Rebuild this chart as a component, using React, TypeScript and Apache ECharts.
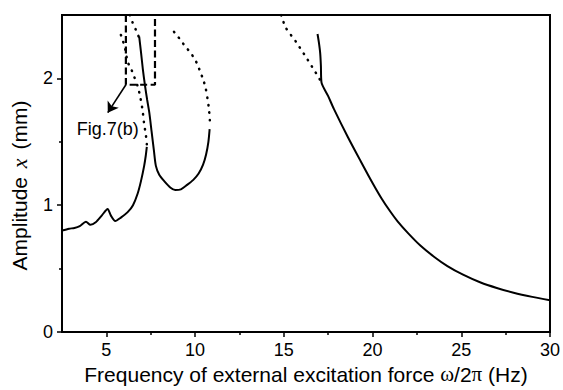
import React, { useEffect, useRef } from "react";
import * as echarts from "echarts";

// Tick values
const xMajorTicks = [5, 10, 15, 20, 25, 30];
const xMinorTicks = [7.5, 12.5, 17.5, 22.5, 27.5];
const yMajorTicks = [0, 1, 2];
const yMinorTicks = [0.5, 1.5];

// Solid branch, low frequency
const branchA: number[][] = [
  [2.5, 0.8], [2.9, 0.815], [3.2, 0.82], [3.5, 0.835], [3.85, 0.87], [4.1, 0.845],
  [4.4, 0.865], [4.75, 0.92], [5.07, 0.97], [5.25, 0.92], [5.5, 0.875], [5.8, 0.9],
  [6.2, 0.945], [6.5, 1.0], [6.76, 1.09], [6.95, 1.19], [7.13, 1.31], [7.22, 1.39], [7.28, 1.46],
];
// Dotted branch going up-left from the end of A
const branchB: number[][] = [
  [7.28, 1.48], [7.23, 1.55], [7.12, 1.65], [7.04, 1.75], [6.9, 1.86], [6.76, 1.94],
  [6.55, 2.02], [6.38, 2.08], [6.2, 2.13], [6.05, 2.24], [5.9, 2.31], [5.8, 2.35],
];
// Dotted branch from the top joining C
const branchG: number[][] = [
  [6.33, 2.5], [6.48, 2.44], [6.67, 2.38], [6.82, 2.33],
];
// Solid branch with U shape
const branchC: number[][] = [
  [6.85, 2.33], [6.95, 2.21], [7.05, 2.08], [7.17, 1.95], [7.3, 1.83], [7.42, 1.73],
  [7.55, 1.58], [7.68, 1.43], [7.79, 1.31], [7.98, 1.24], [8.26, 1.19], [8.6, 1.14],
  [8.88, 1.12], [9.2, 1.125], [9.55, 1.16], [9.9, 1.2], [10.2, 1.25], [10.45, 1.32],
  [10.62, 1.4], [10.75, 1.5], [10.82, 1.6],
];
// Dotted branch going up-left from the end of C
const branchD: number[][] = [
  [10.83, 1.67], [10.78, 1.76], [10.7, 1.84], [10.6, 1.92], [10.46, 1.99], [10.27, 2.06],
  [10.1, 2.12], [9.9, 2.17], [9.7, 2.21], [9.4, 2.26], [9.15, 2.31], [8.9, 2.35], [8.65, 2.4],
];
// Dotted high-frequency branch
const branchE: number[][] = [
  [14.85, 2.5], [15.11, 2.4], [15.68, 2.29], [16.24, 2.17], [16.69, 2.07], [16.91, 2.02], [17.08, 1.98],
];
// Solid high-frequency branch
const branchF: number[][] = [
  [16.9, 2.35], [16.98, 2.28], [17.05, 2.2], [17.09, 2.1], [17.12, 1.97], [17.5, 1.86],
  [17.82, 1.76], [18.6, 1.54], [19.34, 1.345], [20.0, 1.175], [20.5, 1.055], [21.0, 0.95],
  [21.4, 0.875], [22.0, 0.78], [22.71, 0.68], [23.5, 0.59], [24.22, 0.52], [25.1, 0.452],
  [26.09, 0.39], [27.0, 0.347], [27.95, 0.31], [29.0, 0.277], [30, 0.25],
];
// Dashed zoom box (Fig.7(b))
const zoomBox: number[][] = [
  [6.1, 2.5], [6.1, 1.95], [7.74, 1.95], [7.74, 2.5],
];
const arrowFrom = [6.1, 1.95];
const arrowTo = [5.08, 1.73];
const figLabelPos = [3.3, 1.6];
const figLabelText = "Fig.7(b)";

const FONT = "Liberation Sans";

export default function App() {
  const ref = useRef<HTMLDivElement>(null);
  useEffect(() => {
    if (!ref.current) return;
    const chart = echarts.init(ref.current, null, { renderer: "svg" });
    const solid = (data: number[][]) => ({
      type: "line",
      data,
      showSymbol: false,
      symbol: "none",
      smooth: 0.25,
      lineStyle: { color: "#000", width: 2 },
      silent: true,
    });
    const dotted = (data: number[][]) => ({
      type: "line",
      data,
      showSymbol: false,
      symbol: "none",
      smooth: 0.25,
      lineStyle: { color: "#000", width: 2.5, type: [0.5, 7], cap: "round" },
      silent: true,
    });
    chart.setOption({
      animation: false,
      backgroundColor: "#fff",
      grid: {
        left: 61, right: 13, top: 15, bottom: 58,
        show: true, borderColor: "#000", borderWidth: 2,
      },
      xAxis: [
        {
          type: "value", min: 2.5, max: 30, position: "bottom",
          axisLine: { show: true, onZero: false, lineStyle: { color: "#000", width: 2 } },
          axisTick: { show: true, inside: false, length: 5, customValues: xMajorTicks, lineStyle: { color: "#000", width: 1.5 } },
          axisLabel: { customValues: xMajorTicks, fontSize: 18, color: "#000", margin: 9, fontFamily: FONT },
          splitLine: { show: false },
          name: "Frequency of external excitation force {s|ω}/2{s|π} (Hz)",
          nameLocation: "middle",
          nameGap: 31,
          nameTextStyle: {
            fontSize: 21, color: "#000", fontFamily: FONT,
            rich: { s: { fontSize: 21, fontFamily: "Liberation Serif", color: "#000" } },
          },
        },
        {
          type: "value", min: 2.5, max: 30, position: "bottom",
          axisLine: { show: false },
          axisTick: { show: true, inside: false, length: 3, customValues: xMinorTicks, lineStyle: { color: "#000", width: 1.5 } },
          axisLabel: { show: false },
          splitLine: { show: false },
        },
      ],
      yAxis: [
        {
          type: "value", min: 0, max: 2.5, position: "left",
          axisLine: { show: true, onZero: false, lineStyle: { color: "#000", width: 2 } },
          axisTick: { show: true, inside: false, length: 5, customValues: yMajorTicks, lineStyle: { color: "#000", width: 1.5 } },
          axisLabel: { customValues: yMajorTicks, fontSize: 18, color: "#000", margin: 9, fontFamily: FONT },
          splitLine: { show: false },
          name: "Amplitude {i|x} (mm)",
          nameLocation: "middle",
          nameGap: 32,
          nameTextStyle: {
            fontSize: 21, color: "#000", fontFamily: FONT,
            padding: [0, 24, 0, 0],
            rich: { i: { fontSize: 22, fontFamily: "Liberation Serif", fontStyle: "italic", color: "#000", padding: [0, 3, 0, 3] } },
          },
        },
        {
          type: "value", min: 0, max: 2.5, position: "left",
          axisLine: { show: false },
          axisTick: { show: true, inside: false, length: 3, customValues: yMinorTicks, lineStyle: { color: "#000", width: 1.5 } },
          axisLabel: { show: false },
          splitLine: { show: false },
        },
      ],
      series: [
        solid(branchA),
        dotted(branchB),
        dotted(branchG),
        solid(branchC),
        dotted(branchD),
        dotted(branchE),
        solid(branchF),
        {
          type: "line",
          data: zoomBox,
          showSymbol: false,
          symbol: "none",
          lineStyle: { color: "#000", width: 2.2, type: [7, 3.5] },
          silent: true,
          markLine: {
            silent: true,
            symbol: ["none", "arrow"],
            symbolSize: 10,
            label: { show: false },
            lineStyle: { color: "#000", width: 1.6, type: "solid" },
            data: [[{ coord: arrowFrom }, { coord: arrowTo }]],
          },
        },
        {
          type: "scatter",
          data: [figLabelPos],
          symbolSize: 1,
          itemStyle: { color: "#fff", opacity: 1 },
          silent: true,
          label: {
            show: true, position: "right", distance: 0, formatter: figLabelText,
            fontSize: 18, color: "#000", fontFamily: FONT, opacity: 1,
          },
        },
      ],
    });
    return () => chart.dispose();
  }, []);
  return (
    <div
      ref={ref}
      style={{ position: "fixed", left: 0, top: 0, width: 563, height: 390 }}
    />
  );
}
